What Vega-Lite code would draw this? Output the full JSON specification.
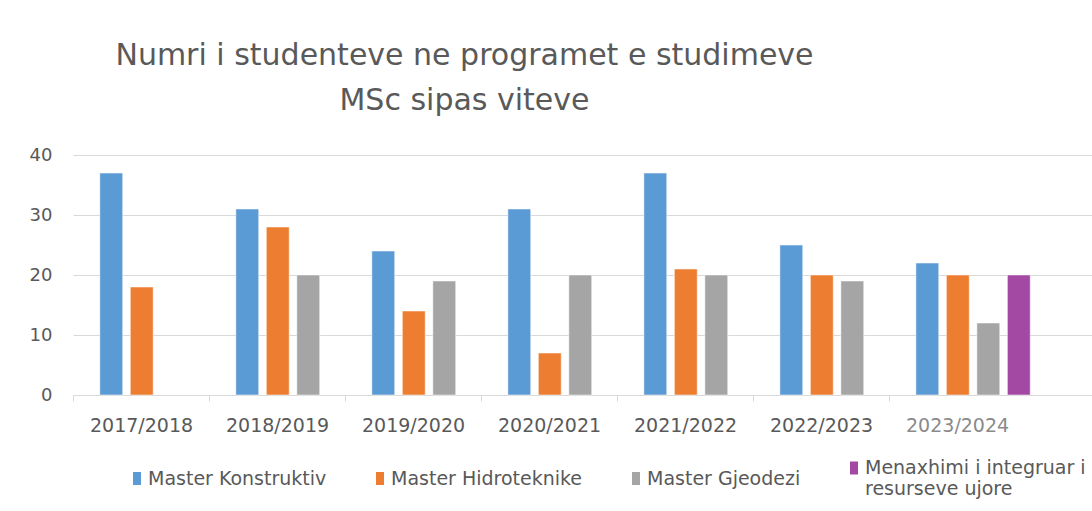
{
  "$schema": "https://vega.github.io/schema/vega-lite/v6.json",
  "autosize": {"type": "none"},
  "width": 1019,
  "height": 240,
  "padding": {"left": 73, "top": 155, "right": 0, "bottom": 116},
  "background": "white",
  "title": {
    "text": ["Numri i studenteve ne programet e studimeve", "MSc sipas viteve"],
    "font": "DejaVu Sans",
    "fontSize": 30,
    "fontWeight": "normal",
    "color": "#595959",
    "anchor": "middle",
    "frame": "group",
    "dx": -118,
    "lineHeight": 45,
    "offset": 30
  },
  "data": {
    "values": [
      {"year": "2017/2018", "program": "Master Konstruktiv", "value": 37},
      {"year": "2017/2018", "program": "Master Hidroteknike", "value": 18},
      {"year": "2018/2019", "program": "Master Konstruktiv", "value": 31},
      {"year": "2018/2019", "program": "Master Hidroteknike", "value": 28},
      {"year": "2018/2019", "program": "Master Gjeodezi", "value": 20},
      {"year": "2019/2020", "program": "Master Konstruktiv", "value": 24},
      {"year": "2019/2020", "program": "Master Hidroteknike", "value": 14},
      {"year": "2019/2020", "program": "Master Gjeodezi", "value": 19},
      {"year": "2020/2021", "program": "Master Konstruktiv", "value": 31},
      {"year": "2020/2021", "program": "Master Hidroteknike", "value": 7},
      {"year": "2020/2021", "program": "Master Gjeodezi", "value": 20},
      {"year": "2021/2022", "program": "Master Konstruktiv", "value": 37},
      {"year": "2021/2022", "program": "Master Hidroteknike", "value": 21},
      {"year": "2021/2022", "program": "Master Gjeodezi", "value": 20},
      {"year": "2022/2023", "program": "Master Konstruktiv", "value": 25},
      {"year": "2022/2023", "program": "Master Hidroteknike", "value": 20},
      {"year": "2022/2023", "program": "Master Gjeodezi", "value": 19},
      {"year": "2023/2024", "program": "Master Konstruktiv", "value": 22},
      {"year": "2023/2024", "program": "Master Hidroteknike", "value": 20},
      {"year": "2023/2024", "program": "Master Gjeodezi", "value": 12},
      {"year": "2023/2024", "program": "Menaxhimi i integruar i resurseve ujore", "value": 20}
    ]
  },
  "mark": {"type": "bar", "stroke": "#ffffff", "strokeOpacity": 0.5, "strokeWidth": 1},
  "encoding": {
    "x": {
      "field": "year",
      "type": "nominal",
      "sort": null,
      "title": null,
      "scale": {"paddingInner": 0, "paddingOuter": 0.246, "align": 0.239},
      "axis": {
        "labelAngle": 0,
        "labelFont": "DejaVu Sans",
        "labelFontSize": 19,
        "labelColor": {"condition": {"test": "datum.value == '2023/2024'", "value": "#8a8a8a"}, "value": "#595959"},
        "labelPadding": 15,
        "domainColor": "#d9d9d9",
        "tickColor": "#d9d9d9",
        "tickSize": 6,
        "tickOffset": -84,
        "labelOffset": 68,
        "grid": false
      }
    },
    "xOffset": {
      "field": "program",
      "type": "nominal",
      "sort": ["Master Konstruktiv", "Master Hidroteknike", "Master Gjeodezi", "Menaxhimi i integruar i resurseve ujore"],
      "scale": {"paddingInner": 0.25, "paddingOuter": 0.355}
    },
    "y": {
      "field": "value",
      "type": "quantitative",
      "title": null,
      "scale": {"domain": [0, 40], "nice": false},
      "axis": {
        "values": [0, 10, 20, 30, 40],
        "labelFont": "DejaVu Sans",
        "labelFontSize": 18,
        "labelColor": "#595959",
        "labelPadding": 21,
        "domain": false,
        "ticks": false,
        "gridColor": "#d9d9d9",
        "gridWidth": 1
      }
    },
    "color": {
      "field": "program",
      "type": "nominal",
      "sort": ["Master Konstruktiv", "Master Hidroteknike", "Master Gjeodezi", "Menaxhimi i integruar i resurseve ujore"],
      "scale": {
        "domain": ["Master Konstruktiv", "Master Hidroteknike", "Master Gjeodezi", "Menaxhimi i integruar i resurseve ujore"],
        "range": ["#5b9bd5", "#ed7d31", "#a5a5a5", "#a349a4"]
      },
      "legend": {
        "title": null,
        "orient": "none",
        "direction": "horizontal",
        "columns": 4,
        "legendX": 54,
        "legendY": 303,
        "labelFont": "DejaVu Sans",
        "labelFontSize": 19,
        "labelColor": "#595959",
        "labelLimit": 400,
        "labelOffset": 1,
        "columnPadding": 43,
        "symbolType": "M-0.4,-0.65H0.4V0.65H-0.4Z",
        "symbolSize": 400,
        "symbolStrokeWidth": 0,
        "labelExpr": "datum.label == 'Menaxhimi i integruar i resurseve ujore' ? ['Menaxhimi i integruar i', 'resurseve ujore'] : datum.label"
      }
    }
  },
  "config": {
    "view": {"stroke": null}
  }
}
